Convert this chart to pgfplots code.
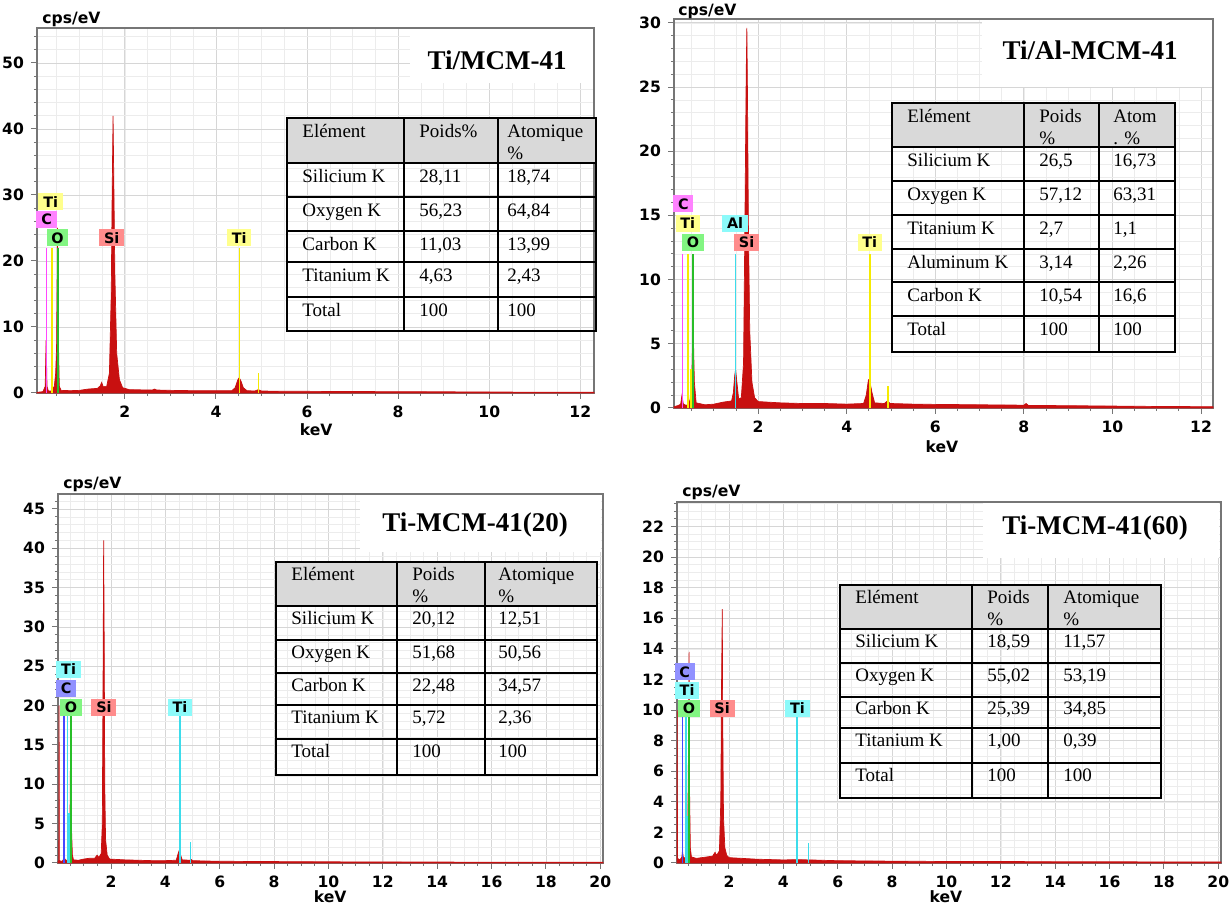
\documentclass[border=0pt]{standalone}
\usepackage{fontspec}
\setmainfont{Liberation Serif}
\newfontfamily\dv{DejaVu Sans}
\usepackage{pgfplots}
\pgfplotsset{compat=1.18}

\definecolor{spec}{RGB}{200,16,16}
\definecolor{tiY}{RGB}{255,255,140}
\definecolor{tiYl}{RGB}{245,235,0}
\definecolor{cM}{RGB}{255,130,255}
\definecolor{cMl}{RGB}{255,70,255}
\definecolor{oG}{RGB}{130,245,130}
\definecolor{oGl}{RGB}{40,190,40}
\definecolor{siR}{RGB}{255,140,140}
\definecolor{alC}{RGB}{140,250,250}
\definecolor{alCl}{RGB}{60,220,235}
\definecolor{cB}{RGB}{145,145,255}
\definecolor{cBl}{RGB}{70,70,255}
\definecolor{hdr}{RGB}{217,217,217}
\definecolor{axgray}{RGB}{118,118,118}

\pgfplotsset{
  eds/.style={
    scale only axis, anchor=south west, ymin=0, clip=false,
    axis line style={axgray, line width=0.6pt},
    tick align=outside, xtick pos=left, ytick pos=left,
    major tick length=3pt, minor tick length=1.6pt,
    every tick/.style={axgray, line width=0.5pt},
    grid=both,
    major grid style={gray!32, line width=0.4pt},
    minor grid style={gray!15, line width=0.3pt},
    /pgf/number format/assume math mode=true,
    tick label style={font=\dv\bfseries\fontsize{7.8}{8}\selectfont},
  },
  spec/.style={fill=spec, draw=spec, line width=0.35pt},
  eline/.style={line width=0.8pt},
}
\tikzset{tt/.style={anchor=base west, inner sep=0pt, font=\fontsize{9.5}{11}\selectfont},
  ttl/.style={inner sep=0pt, font=\bfseries\fontsize{13.5}{15}\selectfont},
  lbl/.style={font=\dv\bfseries\fontsize{7.2}{8}\selectfont, inner xsep=2.4pt, inner ysep=1pt, minimum height=8.5pt},
  ax/.style={font=\dv\bfseries\fontsize{7.8}{8}\selectfont, inner sep=0pt}}

\begin{document}
\begin{tikzpicture}
\path[use as bounding box] (0,0) rectangle (615pt,454pt);

% ---------------- Panel 1: Ti/MCM-41
\begin{axis}[eds, at={(18.5pt,257.5pt)}, width=278.5pt, height=182.5pt,
  xmin=0.07, xmax=12.3, ymax=55.3,
  xtick={2,4,...,12}, minor xtick={0.5,1,...,12},
  ytick={0,10,...,50}, minor ytick={0,2,...,54}]
\addplot[siR, eline] coordinates {(1.74,0) (1.74,22)};
\addplot[spec] coordinates {
(0.07,0.1) (0.2,0.2) (0.25,1) (0.27,8) (0.29,1) (0.32,0.3) (0.38,0.3) (0.40,0.5)
(0.45,1.0) (0.48,3) (0.50,7) (0.52,25) (0.54,8) (0.56,1) (0.6,0.4) (0.8,0.35)
(1.0,0.4) (1.2,0.6) (1.4,0.7) (1.46,1.1) (1.49,1.6) (1.52,1.0) (1.6,1.0) (1.66,3)
(1.70,15) (1.72,30) (1.74,42) (1.76,30) (1.78,18) (1.82,6) (1.88,2) (1.95,0.8)
(2.1,0.5) (2.6,0.45) (2.65,0.6) (2.7,0.45) (3.0,0.4) (3.5,0.35) (4.0,0.35) (4.35,0.35)
(4.42,0.8) (4.48,2.0) (4.51,2.3) (4.55,1.8) (4.6,0.8) (4.68,0.35) (4.85,0.3) (4.93,0.5)
(5.0,0.3) (5.5,0.25) (6,0.25) (7,0.22) (8,0.2) (9,0.18) (10,0.15) (11,0.12) (12.3,0.1)} \closedcycle;
\addplot[cMl, eline] coordinates {(0.277,0) (0.277,22)};
\addplot[tiYl, eline] coordinates {(0.40,0) (0.40,22)};
\addplot[oGl, eline] coordinates {(0.525,0) (0.525,22)};
\addplot[tiYl, eline] coordinates {(4.52,0) (4.52,22)};
\addplot[tiYl, eline] coordinates {(4.93,0) (4.93,3)};
\node[lbl, fill=tiY] at (axis cs:0.37,29.0) {Ti};
\node[lbl, fill=cM] at (axis cs:0.28,26.3) {C};
\node[lbl, fill=oG] at (axis cs:0.52,23.5) {O};
\node[lbl, fill=siR] at (axis cs:1.71,23.5) {Si};
\node[lbl, fill=tiY] at (axis cs:4.51,23.5) {Ti};
\node[ax, anchor=base west, xshift=2.5pt, yshift=2pt] at (rel axis cs:0,1) {cps/eV};
\node[ax, yshift=-18.5pt] at (axis cs:6.2,0) {keV};
\end{axis}

% ---------------- Panel 2: Ti/Al-MCM-41
\begin{axis}[eds, at={(337pt,250pt)}, width=269.5pt, height=194.5pt,
  xmin=0.1, xmax=12.27, ymax=30.3,
  xtick={2,4,...,12}, minor xtick={0.5,1,...,12},
  ytick={0,5,...,30}, minor ytick={0,1,...,30}]
\addplot[siR, eline] coordinates {(1.74,0) (1.74,12)};
\addplot[spec] coordinates {
(0.1,0.1) (0.2,0.2) (0.25,0.3) (0.28,1.0) (0.31,0.3) (0.38,0.2) (0.42,0.3) (0.46,0.6)
(0.50,2.0) (0.53,6.8) (0.56,2.0) (0.6,0.4) (0.8,0.25) (1.0,0.3) (1.2,0.45) (1.4,0.55)
(1.44,1.2) (1.47,2.5) (1.49,3.0) (1.52,2.0) (1.56,0.7) (1.62,0.8) (1.67,3.5) (1.70,14)
(1.73,26) (1.745,29.6) (1.76,24) (1.78,14) (1.81,6) (1.86,2) (1.92,0.8) (2.0,0.5)
(2.5,0.4) (3.0,0.35) (3.5,0.35) (4.0,0.3) (4.38,0.35) (4.44,1.0) (4.49,2.2) (4.52,2.1)
(4.57,1.2) (4.63,0.4) (4.85,0.35) (4.92,0.55) (4.98,0.35) (5.5,0.3) (6,0.28) (7,0.25)
(8,0.22) (8.05,0.35) (8.1,0.2) (9,0.18) (10,0.15) (11,0.12) (12.27,0.1)} \closedcycle;
\addplot[cMl, eline] coordinates {(0.29,0) (0.29,12)};
\addplot[tiYl, eline] coordinates {(0.41,0) (0.41,12)};
\addplot[tiYl, eline] coordinates {(0.49,0) (0.49,3)};
\addplot[oGl, eline] coordinates {(0.53,0) (0.53,12)};
\addplot[alCl, eline] coordinates {(1.49,0) (1.49,12)};
\addplot[tiYl, eline] coordinates {(4.52,0) (4.52,12)};
\addplot[tiYl, eline] coordinates {(4.93,0) (4.93,1.7)};
\node[lbl, fill=cM] at (axis cs:0.31,15.9) {C};
\node[lbl, fill=tiY] at (axis cs:0.41,14.4) {Ti};
\node[lbl, fill=oG] at (axis cs:0.53,12.9) {O};
\node[lbl, fill=alC] at (axis cs:1.48,14.4) {Al};
\node[lbl, fill=siR] at (axis cs:1.74,12.9) {Si};
\node[lbl, fill=tiY] at (axis cs:4.52,12.9) {Ti};
\node[ax, anchor=base west, xshift=2pt, yshift=1.5pt] at (rel axis cs:0,1) {cps/eV};
\node[ax, yshift=-19.5pt] at (axis cs:6.15,0) {keV};
\end{axis}

% ---------------- Panel 3: Ti-MCM-41(20)
\begin{axis}[eds, at={(29pt,22.5pt)}, width=272.5pt, height=184.5pt,
  xmin=0.05, xmax=20.1, ymax=46.9,
  xtick={2,4,...,20}, minor xtick={0.5,1,...,20},
  ytick={0,5,...,45}, minor ytick={0,1,...,46}]
\addplot[siR, eline] coordinates {(1.74,0) (1.74,19)};
\addplot[spec] coordinates {
(0.05,0.2) (0.08,0.3) (0.09,20) (0.10,0.3) (0.2,0.2) (0.26,0.5) (0.28,1.0) (0.30,0.5)
(0.36,0.3) (0.40,0.4) (0.45,1.5) (0.49,5) (0.52,19) (0.55,4) (0.58,1) (0.62,0.4)
(0.8,0.35) (1.0,0.5) (1.2,0.6) (1.4,0.6) (1.49,1.0) (1.55,0.7) (1.64,1.2) (1.68,5)
(1.71,25) (1.73,41) (1.75,28) (1.77,10) (1.80,3) (1.86,1) (1.95,0.5) (2.5,0.4)
(3.0,0.35) (3.5,0.3) (4.0,0.3) (4.4,0.35) (4.47,1.2) (4.51,1.6) (4.56,1.0) (4.62,0.4)
(4.9,0.35) (4.95,0.45) (5.0,0.3) (5.5,0.25) (6,0.22) (8,0.18) (10,0.15) (12,0.13)
(14,0.12) (16,0.1) (18,0.1) (20.1,0.1)} \closedcycle;
\addplot[cBl, eline] coordinates {(0.27,0) (0.27,19)};
\addplot[alCl, eline] coordinates {(0.40,0) (0.40,19)};
\addplot[alCl, eline] coordinates {(0.45,0) (0.45,6.3)};
\addplot[oGl, eline] coordinates {(0.525,0) (0.525,19)};
\addplot[alCl, eline] coordinates {(4.53,0) (4.53,19)};
\addplot[alCl, eline] coordinates {(4.93,0) (4.93,2.7)};
\node[lbl, fill=alC] at (axis cs:0.44,24.6) {Ti};
\node[lbl, fill=cB] at (axis cs:0.35,22.2) {C};
\node[lbl, fill=oG] at (axis cs:0.53,19.8) {O};
\node[lbl, fill=siR] at (axis cs:1.74,19.8) {Si};
\node[lbl, fill=alC] at (axis cs:4.54,19.8) {Ti};
\node[ax, anchor=base west, xshift=2.5pt, yshift=2.5pt] at (rel axis cs:0,1) {cps/eV};
\node[ax, yshift=-17pt] at (axis cs:10.06,0) {keV};
\end{axis}

% ---------------- Panel 4: Ti-MCM-41(60)
\begin{axis}[eds, at={(338.5pt,22.5pt)}, width=272pt, height=180.5pt,
  xmin=0.09, xmax=20.1, ymax=23.6,
  xtick={2,4,...,20}, minor xtick={0.5,1,...,20},
  ytick={0,2,...,22}, minor ytick={0,0.5,...,23.5}]
\addplot[siR, eline] coordinates {(1.75,0) (1.75,9.6)};
\addplot[spec] coordinates {
(0.09,0.2) (0.095,10) (0.11,0.3) (0.2,0.2) (0.27,0.4) (0.29,0.8) (0.32,0.4) (0.38,0.3)
(0.45,0.6) (0.49,3) (0.52,9) (0.535,13.8) (0.55,5) (0.58,1) (0.62,0.4) (0.8,0.3)
(1.0,0.35) (1.2,0.4) (1.4,0.45) (1.49,0.7) (1.55,0.5) (1.65,0.8) (1.70,4) (1.73,12)
(1.755,16.6) (1.77,10) (1.80,3) (1.85,1) (1.92,0.5) (2.0,0.35) (2.5,0.3) (3,0.25)
(4,0.2) (4.5,0.22) (5,0.2) (6,0.15) (8,0.12) (10,0.1) (12,0.1) (14,0.08) (16,0.08)
(18,0.07) (20.1,0.07)} \closedcycle;
\addplot[cBl, eline] coordinates {(0.29,0) (0.29,9.6)};
\addplot[alCl, eline] coordinates {(0.42,0) (0.42,9.6)};
\addplot[alCl, eline] coordinates {(0.46,0) (0.46,3.1)};
\addplot[oGl, eline] coordinates {(0.53,0) (0.53,9.6)};
\addplot[alCl, eline] coordinates {(4.51,0) (4.51,9.6)};
\addplot[alCl, eline] coordinates {(4.93,0) (4.93,1.3)};
\node[lbl, fill=cB] at (axis cs:0.37,12.5) {C};
\node[lbl, fill=alC] at (axis cs:0.46,11.3) {Ti};
\node[lbl, fill=oG] at (axis cs:0.53,10.1) {O};
\node[lbl, fill=siR] at (axis cs:1.75,10.1) {Si};
\node[lbl, fill=alC] at (axis cs:4.52,10.1) {Ti};
\node[ax, anchor=base west, xshift=2.5pt, yshift=2.5pt] at (rel axis cs:0,1) {cps/eV};
\node[ax, yshift=-17pt] at (axis cs:9.98,0) {keV};
\end{axis}

% ---------------- Titles and tables (pixel coordinates)
\begin{scope}[x=0.5pt, y=-0.5pt, shift={(0pt,454pt)}]
% titles
\fill[white] (410,29) rectangle (593,83);
\node[ttl] at (497,60) {Ti/MCM-41};
\fill[white] (982,20) rectangle (1212,87);
\node[ttl] at (1090,50) {Ti/Al-MCM-41};
\fill[white] (360,495) rectangle (601,552);
\node[ttl] at (475,525) {Ti-MCM-41(20)};
\fill[white] (983,503) rectangle (1219,558);
\node[ttl] at (1095,528) {Ti-MCM-41(60)};

% table 1
\fill[hdr] (287,118) rectangle (596,163);
\draw[line width=1pt] (287,118) rectangle (596,331);
\foreach \y in {163,197,231,262,297} \draw[line width=1pt] (287,\y) -- (596,\y);
\foreach \x in {404,498} \draw[line width=1pt] (\x,118) -- (\x,331);
\node[tt] at (302,138) {Elément}; \node[tt] at (419,138) {Poids\%}; \node[tt] at (507,138) {Atomique}; \node[tt] at (507,160) {\%};
\node[tt] at (302,183) {Silicium K}; \node[tt] at (419,183) {28,11}; \node[tt] at (507,183) {18,74};
\node[tt] at (302,217) {Oxygen K}; \node[tt] at (419,217) {56,23}; \node[tt] at (507,217) {64,84};
\node[tt] at (302,251) {Carbon K}; \node[tt] at (419,251) {11,03}; \node[tt] at (507,251) {13,99};
\node[tt] at (302,282) {Titanium K}; \node[tt] at (419,282) {4,63}; \node[tt] at (507,282) {2,43};
\node[tt] at (302,317) {Total}; \node[tt] at (419,317) {100}; \node[tt] at (507,317) {100};

% table 2
\fill[hdr] (892,103) rectangle (1175,147);
\draw[line width=1pt] (892,103) rectangle (1175,352);
\foreach \y in {147,181,215,249,282,316} \draw[line width=1pt] (892,\y) -- (1175,\y);
\foreach \x in {1024,1099} \draw[line width=1pt] (\x,103) -- (\x,352);
\node[tt] at (907,123) {Elément}; \node[tt] at (1039,123) {Poids}; \node[tt] at (1039,145) {\%}; \node[tt] at (1113,123) {Atom}; \node[tt] at (1113,145) {. \%};
\node[tt] at (907,167) {Silicium K}; \node[tt] at (1039,167) {26,5}; \node[tt] at (1113,167) {16,73};
\node[tt] at (907,201) {Oxygen K}; \node[tt] at (1039,201) {57,12}; \node[tt] at (1113,201) {63,31};
\node[tt] at (907,235) {Titanium K}; \node[tt] at (1039,235) {2,7}; \node[tt] at (1113,235) {1,1};
\node[tt] at (907,269) {Aluminum K}; \node[tt] at (1039,269) {3,14}; \node[tt] at (1113,269) {2,26};
\node[tt] at (907,302) {Carbon K}; \node[tt] at (1039,302) {10,54}; \node[tt] at (1113,302) {16,6};
\node[tt] at (907,336) {Total}; \node[tt] at (1039,336) {100}; \node[tt] at (1113,336) {100};

% table 3
\fill[hdr] (276,562) rectangle (597,606);
\draw[line width=1pt] (276,562) rectangle (597,775);
\foreach \y in {606,640,673,705,739} \draw[line width=1pt] (276,\y) -- (597,\y);
\foreach \x in {397,485} \draw[line width=1pt] (\x,562) -- (\x,775);
\node[tt] at (291,581) {Elément}; \node[tt] at (412,581) {Poids}; \node[tt] at (412,603) {\%}; \node[tt] at (498,581) {Atomique}; \node[tt] at (498,603) {\%};
\node[tt] at (291,625) {Silicium K}; \node[tt] at (412,625) {20,12}; \node[tt] at (498,625) {12,51};
\node[tt] at (291,659) {Oxygen K}; \node[tt] at (412,659) {51,68}; \node[tt] at (498,659) {50,56};
\node[tt] at (291,692) {Carbon K}; \node[tt] at (412,692) {22,48}; \node[tt] at (498,692) {34,57};
\node[tt] at (291,724) {Titanium K}; \node[tt] at (412,724) {5,72}; \node[tt] at (498,724) {2,36};
\node[tt] at (291,758) {Total}; \node[tt] at (412,758) {100}; \node[tt] at (498,758) {100};

% table 4
\fill[hdr] (840,585) rectangle (1161,629);
\draw[line width=1pt] (840,585) rectangle (1161,798);
\foreach \y in {629,663,697,728,763} \draw[line width=1pt] (840,\y) -- (1161,\y);
\foreach \x in {972,1048} \draw[line width=1pt] (\x,585) -- (\x,798);
\node[tt] at (855,604) {Elément}; \node[tt] at (987,604) {Poids}; \node[tt] at (987,626) {\%}; \node[tt] at (1063,604) {Atomique}; \node[tt] at (1063,626) {\%};
\node[tt] at (855,648) {Silicium K}; \node[tt] at (987,648) {18,59}; \node[tt] at (1063,648) {11,57};
\node[tt] at (855,682) {Oxygen K}; \node[tt] at (987,682) {55,02}; \node[tt] at (1063,682) {53,19};
\node[tt] at (855,715) {Carbon K}; \node[tt] at (987,715) {25,39}; \node[tt] at (1063,715) {34,85};
\node[tt] at (855,747) {Titanium K}; \node[tt] at (987,747) {1,00}; \node[tt] at (1063,747) {0,39};
\node[tt] at (855,782) {Total}; \node[tt] at (987,782) {100}; \node[tt] at (1063,782) {100};
\end{scope}
\end{tikzpicture}
\end{document}
